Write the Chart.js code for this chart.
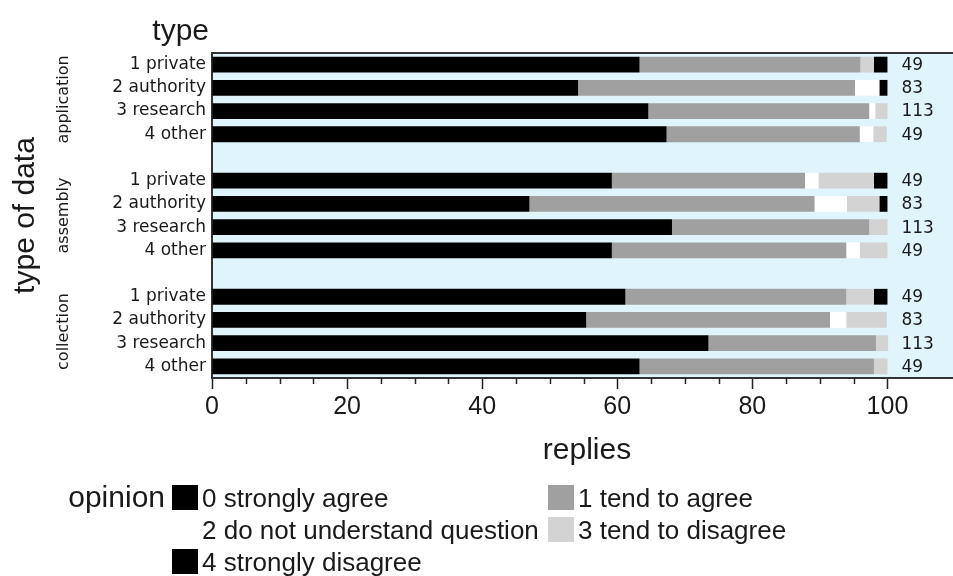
<!DOCTYPE html>
<html>
<head>
<meta charset="utf-8">
<script src="https://cdn.jsdelivr.net/npm/chart.js@4/dist/chart.umd.min.js"></script>
<style>
  html, body { margin: 0; padding: 0; background: #fff; overflow: hidden; }
  #wrap { width: 955px; height: 576px; position: relative; }
</style>
</head>
<body>
<div id="wrap"><canvas id="chart"></canvas></div>
<script>
const groups = ['application', 'assembly', 'collection'];
const types = ['1 private', '2 authority', '3 research', '4 other'];
const totals = [49, 83, 113, 49];
const opinions = ['0 strongly agree', '1 tend to agree', '2 do not understand question', '3 tend to disagree', '4 strongly disagree'];
const opinionColors = ['#000000', '#a0a0a0', '#ffffff', '#d3d3d3', '#000000'];
const xTicks = [0, 20, 40, 60, 80, 100];

// % of replies, rows: application (4 types), assembly (4), collection (4)
const stronglyAgree    = [63.3, 54.2, 64.6, 67.3, 59.2, 47.0, 68.1, 59.2, 61.2, 55.4, 73.5, 63.3];
const tendAgree        = [32.7, 41.0, 32.7, 28.6, 28.6, 42.2, 29.2, 34.7, 32.7, 36.1, 24.8, 34.7];
const notUnderstand    = [0, 3.6, 0.9, 2.0, 2.0, 4.8, 0, 2.0, 0, 2.4, 0, 0];
const tendDisagree     = [2.0, 0, 1.8, 2.0, 8.2, 4.8, 2.7, 4.1, 4.1, 6.0, 1.8, 2.0];
const stronglyDisagree = [2.0, 1.2, 0, 0, 2.0, 1.2, 0, 0, 2.0, 0, 0, 0];

const series = [stronglyAgree, tendAgree, notUnderstand, tendDisagree, stronglyDisagree];

// one empty row between the groups
const labels = [];
const rowOf = [];
groups.forEach((g, gi) => {
  if (gi > 0) labels.push('');
  types.forEach(t => { rowOf.push(labels.length); labels.push(t); });
});
function spread(values) {
  const out = labels.map(() => null);
  values.forEach((v, i) => { out[rowOf[i]] = v; });
  return out;
}

const TEXT = '#1a1a1a';
const SANS = "'Liberation Sans', Arial, sans-serif";
const NARROW = "'Liberation Sans Narrow', 'Arial Narrow', 'Liberation Sans', sans-serif";

const extras = {
  id: 'extras',
  beforeDraw(chart) {
    const {ctx, chartArea: a} = chart;
    ctx.save();
    ctx.fillStyle = '#e0f4fc';
    ctx.fillRect(a.left, a.top, a.right - a.left, a.bottom - a.top);
    ctx.restore();
  },
  afterDraw(chart) {
    const {ctx, chartArea: a} = chart;
    const xs = chart.scales.x, ys = chart.scales.y;
    ctx.save();

    // top frame line
    ctx.strokeStyle = '#333';
    ctx.lineWidth = 2;
    ctx.beginPath();
    ctx.moveTo(a.left, a.top);
    ctx.lineTo(a.right, a.top);
    ctx.stroke();

    // minor ticks
    ctx.lineWidth = 1.5;
    ctx.strokeStyle = '#222';
    for (let v = 5; v < 100; v += 5) {
      if (xTicks.includes(v)) continue;
      const px = Math.round(xs.getPixelForValue(v)) + 0.5;
      ctx.beginPath();
      ctx.moveTo(px, a.bottom);
      ctx.lineTo(px, a.bottom + 6);
      ctx.stroke();
    }

    ctx.fillStyle = TEXT;

    // number of replies per row
    ctx.font = "17px 'DejaVu Sans', sans-serif";
    ctx.textAlign = 'left';
    ctx.textBaseline = 'middle';
    rowOf.forEach((r, i) => {
      ctx.fillText(String(totals[i % totals.length]), xs.getPixelForValue(100) + 14, ys.getPixelForValue(r) + 1);
    });

    // group names
    groups.forEach((g, gi) => {
      const y0 = ys.getPixelForValue(rowOf[gi * 4]);
      const y1 = ys.getPixelForValue(rowOf[gi * 4 + 3]);
      ctx.save();
      ctx.translate(64, (y0 + y1) / 2);
      ctx.rotate(-Math.PI / 2);
      ctx.textAlign = 'center';
      ctx.textBaseline = 'middle';
      ctx.font = "16px 'DejaVu Sans', sans-serif";
      ctx.fillText(g, 0, 0);
      ctx.restore();
    });

    // axis titles
    ctx.font = '30px ' + SANS;
    ctx.save();
    ctx.translate(26, (a.top + a.bottom) / 2);
    ctx.rotate(-Math.PI / 2);
    ctx.textAlign = 'center';
    ctx.textBaseline = 'middle';
    ctx.fillText('type of data', 0, 0);
    ctx.restore();

    ctx.textBaseline = 'alphabetic';
    ctx.textAlign = 'right';
    ctx.fillText('type', 209, 40);
    ctx.textAlign = 'center';
    ctx.fillText('replies', 587, 459);

    // legend
    ctx.textAlign = 'right';
    ctx.fillText('opinion', 165, 507);
    const cols = [172, 548];
    const rows = [507, 539, 571];
    ctx.font = '26px ' + SANS;
    ctx.textAlign = 'left';
    opinions.forEach((name, i) => {
      const x = cols[i % 2];
      const y = rows[Math.floor(i / 2)];
      ctx.fillStyle = opinionColors[i];
      ctx.fillRect(x, y - 22, 26, 25);
      ctx.fillStyle = TEXT;
      ctx.fillText(name, x + 30, y);
    });

    ctx.restore();
  }
};

new Chart(document.getElementById('chart'), {
  type: 'bar',
  data: {
    labels: labels,
    datasets: opinions.map((name, i) => ({
      label: name,
      data: spread(series[i]),
      backgroundColor: opinionColors[i],
      borderWidth: 0,
      barPercentage: 0.68,
      categoryPercentage: 1
    }))
  },
  options: {
    indexAxis: 'y',
    responsive: true,
    maintainAspectRatio: false,
    animation: false,
    layout: { padding: { top: 53, left: 0, right: 0, bottom: 0 } },
    plugins: {
      legend: { display: false },
      tooltip: { enabled: false }
    },
    scales: {
      x: {
        stacked: true,
        min: 0,
        max: 110,
        afterFit: s => { s.height = 198; },
        afterBuildTicks: s => { s.ticks = xTicks.map(v => ({ value: v })); },
        grid: { drawOnChartArea: false, drawTicks: true, tickLength: 11, color: '#222', tickWidth: 1.5 },
        border: { display: true, color: '#333', width: 2 },
        ticks: {
          padding: 3,
          maxRotation: 0,
          color: TEXT,
          font: { family: NARROW, size: 25 }
        }
      },
      y: {
        stacked: true,
        afterFit: s => { s.width = 212; },
        grid: { display: false, drawTicks: false },
        border: { display: true, color: '#333', width: 2 },
        ticks: {
          padding: 6,
          autoSkip: false,
          color: TEXT,
          font: { family: "'DejaVu Sans', sans-serif", size: 17 }
        }
      }
    }
  },
  plugins: [extras]
});
</script>
</body>
</html>
